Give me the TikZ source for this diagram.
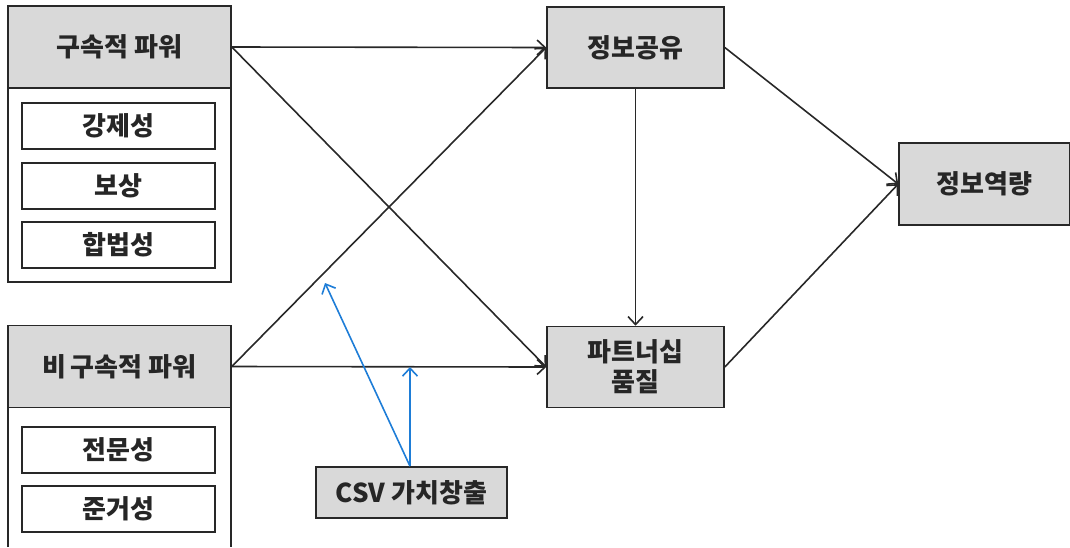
\documentclass[tikz,border=0pt]{standalone}
\usepackage{fontspec}
\newfontfamily\kr{Noto Sans CJK KR}
\usetikzlibrary{arrows.meta}
\usetikzlibrary{positioning}
\definecolor{boxgray}{RGB}{217,217,217}
\definecolor{linegray}{RGB}{40,40,40}
\definecolor{csvblue}{RGB}{30,125,215}

\begin{document}
\begin{tikzpicture}[x=1pt, y=-1pt,
    every node/.style={font=\kr\bfseries\fontsize{26}{28}\selectfont, text=black!85},
    hdr/.style={draw=linegray, line width=1.6pt, fill=boxgray, minimum width=223pt, minimum height=82pt, inner sep=0pt},
    item/.style={draw=linegray, line width=1.6pt, fill=white, minimum width=193pt, minimum height=46pt, inner sep=0pt},
    var/.style={draw=linegray, line width=1.6pt, fill=boxgray, minimum width=177pt, minimum height=81pt, inner sep=0pt, align=center},
    link/.style={-{Straight Barb[length=8pt, width=15pt]}, linegray, line width=1.6pt},
    mod/.style={-{Straight Barb[length=8pt, width=15pt]}, csvblue, line width=1.6pt}]
        \useasboundingbox (0,0) rectangle (1070,547);
        % left groups
        \draw [linegray, line width=1.6pt] (8,6) rectangle (231,282);
        \draw [linegray, line width=1.6pt] (8,547) -- (8,326) -- (231,326) -- (231,547);
        \node [hdr] (gsk) at (119.5,47) {구속적 파워};
        \node [item] (gang) at (118.5,126) {강제성};
        \node [item] (bosang) at (118.5,186) {보상};
        \node [item] (hap) at (118.5,245) {합법성};
        \node [hdr] (bgsk) at (119.5,366.5) {비\,구속적 파워};
        \node [item] (jeon) at (118.5,450) {전문성};
        \node [item] (jun) at (118.5,509) {준거성};
        % mediators and outcome
        \node [var] (share) at (635.5,47.5) {정보공유};
        \node [var] (part) at (635.5,367) {파트너십\\[2pt]품질};
        \node [draw=linegray, line width=1.6pt, fill=boxgray, minimum width=171pt, minimum height=82pt, inner sep=0pt] (cap) at (984.5,184) {정보역량};
        \node [draw=linegray, line width=1.6pt, fill=boxgray, minimum width=191pt, minimum height=51pt, inner sep=0pt] (csv) at (411.5,492.5) {CSV 가치창출};
        % paths
        \draw [link] (gsk.east) -- (share.west);
        \draw [link] (gsk.east) -- (part.west);
        \draw [link] (bgsk.east) -- (share.west);
        \draw [link] (bgsk.east) -- (part.west);
        \draw [link] (share.south) -- (part.north);
        \draw [link] (share.east) -- (cap.west);
        \draw [link] (part.east) -- (cap.west);
        % moderation
        \coordinate (m1) at (325,283);
        \coordinate (m2) at (410,367);
        \draw [mod] (csv.north -| m2) -- (m1);
        \draw [mod] (csv.north -| m2) -- (m2);
\end{tikzpicture}
\end{document}
